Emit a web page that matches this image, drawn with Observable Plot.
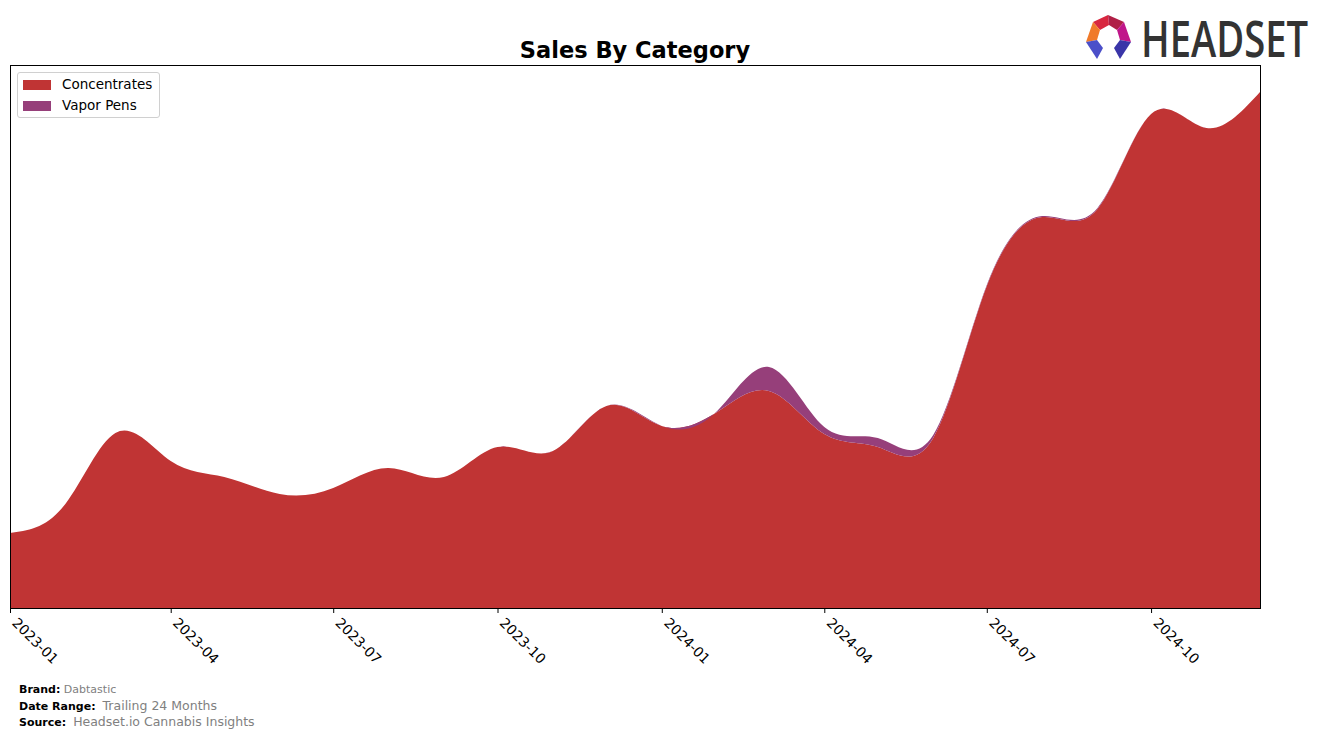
<!DOCTYPE html>
<html>
<head>
<meta charset="utf-8">
<script src="https://cdn.jsdelivr.net/npm/d3@7"></script>
<script src="https://cdn.jsdelivr.net/npm/@observablehq/plot@0.6"></script>
<style>
  html, body { margin: 0; padding: 0; background: #fff; }
  body { width: 1324px; height: 738px; overflow: hidden; font-family: "DejaVu Sans", sans-serif; }
  #wrap { position: relative; width: 1324px; height: 738px; }
  #title { position: absolute; left: 10px; width: 1250px; top: 37px; text-align: center; font-weight: bold; font-size: 22.5px; color: #000; }
  #legend { position: absolute; left: 17px; top: 72px; width: 141px; height: 44px; border: 1px solid #d0d0d0; border-radius: 3px; background: rgba(255,255,255,0.85); }
  .li { position: absolute; left: 5px; font-size: 13.5px; color: #000; }
  .sw { display: inline-block; width: 28px; height: 10px; vertical-align: middle; margin-right: 11px; }
  #footer { position: absolute; left: 19px; top: 682px; font-size: 11px; line-height: 15.5px; }
  #footer b { color: #000; }
  .g { color: #808080; }
  #logo { position: absolute; left: 1080px; top: 0px; }
  #chart { position: absolute; left: 0; top: 0; }
</style>
</head>
<body>
<div id="wrap">
  <div id="chart"></div>
  <div id="title">Sales By Category</div>
  <div id="legend"></div>
  <div id="footer">
    <div><b>Brand:</b> <span class="g" style="font-size:11px">Dabtastic</span></div>
    <div><b>Date Range:</b>&nbsp; <span class="g" style="font-size:12.5px">Trailing 24 Months</span></div>
    <div><b>Source:</b>&nbsp; <span class="g" style="font-size:12.5px">Headset.io Cannabis Insights</span></div>
  </div>
  <svg id="logo" width="244" height="78" viewBox="1080 0 244 78">
    <polygon points="1093,22 1108,15 1109,25 1100,30" fill="#d8263f"/>
    <polygon points="1108,15 1124,22 1117,30 1109,25" fill="#b01f46"/>
    <polygon points="1093,22 1100,30 1097,40 1086,42" fill="#f07a2a"/>
    <polygon points="1124,22 1131,42 1120,40 1117,30" fill="#c0168a"/>
    <polygon points="1086,42 1097,40 1103,48 1097,59" fill="#4b4fc9"/>
    <polygon points="1131,42 1120,40 1114,48 1120,59" fill="#3a35a8"/>
    <text transform="translate(1141,57) scale(1,1.33)" x="0" y="0" textLength="167" lengthAdjust="spacingAndGlyphs" font-family="'Open Sans', 'DejaVu Sans', sans-serif" font-weight="600" font-size="38" fill="#333333">HEADSET</text>
  </svg>
</div>
<script>
const months = ["2023-01","2023-02","2023-03","2023-04","2023-05","2023-06","2023-07","2023-08","2023-09","2023-10","2023-11","2023-12",
                "2024-01","2024-02","2024-03","2024-04","2024-05","2024-06","2024-07","2024-08","2024-09","2024-10","2024-11","2024-12"];
const concentrates = [75,104,175,147,131,114,120,140,131,161,157,202,182,196,217,174,161,170,322,391,399,494,480,516];
const vaporPens    = [0,0,0,0,0,0,0,0,0,0,0,0,0,1,24,7,9,3,1,1,1,0,0,0];
const categories = ["Concentrates", "Vapor Pens"];
const colors = ["#c03434", "#963f7a"];
const tickLabels = ["2023-01","2023-04","2023-07","2023-10","2024-01","2024-04","2024-07","2024-10"];

// Natural cubic spline of y as a function of x, used as a d3 curve factory
function splineSlopes(x, y) {
  const n = x.length;
  const h = [], del = [];
  for (let k = 0; k < n - 1; k++) { h[k] = x[k + 1] - x[k]; del[k] = (y[k + 1] - y[k]) / h[k]; }
  const a = new Array(n).fill(0), b = new Array(n).fill(0), c = new Array(n).fill(0), r = new Array(n).fill(0);
  for (let k = 1; k < n - 1; k++) {
    a[k] = h[k]; b[k] = 2 * (h[k - 1] + h[k]); c[k] = h[k - 1];
    r[k] = 3 * (h[k] * del[k - 1] + h[k - 1] * del[k]);
  }
  b[0] = 2; c[0] = 1; r[0] = 3 * del[0];
  a[n - 1] = 1; b[n - 1] = 2; r[n - 1] = 3 * del[n - 2];
  const cp = new Array(n), rp = new Array(n);
  cp[0] = c[0] / b[0]; rp[0] = r[0] / b[0];
  for (let k = 1; k < n; k++) {
    const m = b[k] - a[k] * cp[k - 1];
    cp[k] = c[k] / m;
    rp[k] = (r[k] - a[k] * rp[k - 1]) / m;
  }
  const s = new Array(n);
  s[n - 1] = rp[n - 1];
  for (let k = n - 2; k >= 0; k--) s[k] = rp[k] - cp[k] * s[k + 1];
  return s;
}
function NaturalX(context) { this._context = context; }
NaturalX.prototype = {
  areaStart() { this._line = 0; },
  areaEnd() { this._line = NaN; },
  lineStart() { this._x = []; this._y = []; },
  lineEnd() {
    const x = this._x, y = this._y, n = x.length;
    if (n) {
      this._line ? this._context.lineTo(x[0], y[0]) : this._context.moveTo(x[0], y[0]);
      if (n === 2) {
        this._context.lineTo(x[1], y[1]);
      } else if (n > 2) {
        const s = splineSlopes(x, y);
        for (let i = 0; i < n - 1; i++) {
          const hh = x[i + 1] - x[i];
          this._context.bezierCurveTo(x[i] + hh / 3, y[i] + s[i] * hh / 3,
                                      x[i + 1] - hh / 3, y[i + 1] - s[i + 1] * hh / 3,
                                      x[i + 1], y[i + 1]);
        }
      }
    }
    if (this._line || (this._line !== 0 && n === 1)) this._context.closePath();
    this._line = 1 - this._line;
    this._x = this._y = null;
  },
  point(x, y) { this._x.push(+x); this._y.push(+y); }
};
const curveNaturalX = (context) => new NaturalX(context);

const parse = d3.utcParse("%Y-%m");
const data = [];
months.forEach((m, i) => data.push({date: parse(m), category: categories[0], value: concentrates[i]}));
months.forEach((m, i) => data.push({date: parse(m), category: categories[1], value: vaporPens[i]}));
const ticks = tickLabels.map(parse);

const chart = Plot.plot({
  width: 1324,
  height: 680,
  marginLeft: 10,
  marginRight: 64,
  marginTop: 65,
  marginBottom: 72,
  style: {fontFamily: "'DejaVu Sans', sans-serif", fontSize: "13.9px", color: "#000", background: "transparent"},
  x: {type: "utc", domain: [parse(months[0]), parse(months[months.length - 1])], axis: null},
  y: {domain: [0, 543], axis: null},
  color: {domain: categories, range: colors},
  marks: [
    Plot.areaY(data, {x: "date", y: "value", z: "category", fill: "category", curve: curveNaturalX, order: categories}),
    Plot.frame({stroke: "#000", strokeWidth: 1}),
    Plot.axisX({ticks, tickSize: 5, tickFormat: () => "", label: null, stroke: "#000"}),
    Plot.text(ticks, {x: (d) => d, frameAnchor: "bottom", text: (d) => d3.utcFormat("%Y-%m")(d), rotate: 45, textAnchor: "start", lineAnchor: "middle", dx: 4, dy: 12, fontSize: 13.9, fill: "#000"})
  ]
});
document.getElementById("chart").appendChild(chart);

const legend = document.getElementById("legend");
categories.forEach((c, i) => {
  const d = document.createElement("div");
  d.className = "li";
  d.style.top = (3 + i * 21) + "px";
  d.innerHTML = `<span class="sw" style="background:${colors[i]}"></span>${c}`;
  legend.appendChild(d);
});
</script>
</body>
</html>
